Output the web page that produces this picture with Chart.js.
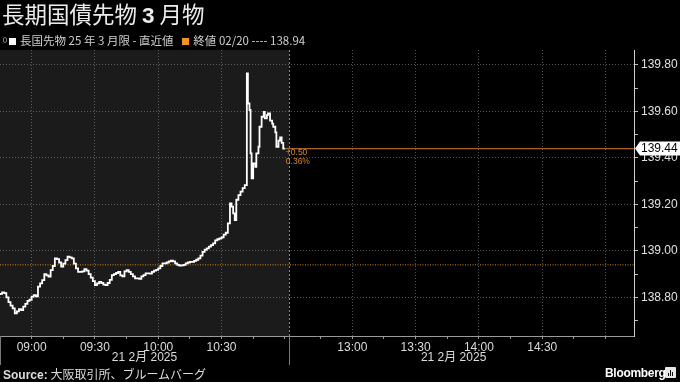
<!DOCTYPE html>
<html><head><meta charset="utf-8">
<script src="https://cdn.jsdelivr.net/npm/chart.js@4.4.1/dist/chart.umd.min.js"></script>
<style>
html,body{margin:0;padding:0;background:#000;}
#wrap{position:relative;width:680px;height:382px;overflow:hidden;background:#000;font-family:"Noto Sans CJK JP","Liberation Sans",sans-serif;}
#c{position:absolute;left:0;top:0;}
.title{position:absolute;left:2px;top:0px;font-size:22.5px;line-height:26px;color:#ececec;white-space:nowrap;}
.title b{font-family:"Liberation Sans",Arial,sans-serif;font-weight:bold;}
.legend{position:absolute;left:3px;top:33px;font-size:11.5px;line-height:14px;color:#cfcfcf;white-space:nowrap;}
.sq{display:inline-block;width:7px;height:7px;margin:0 4px 0 1px;vertical-align:0px;}
.pin{display:inline-block;width:2px;height:4px;border:1px solid #777;border-radius:2px;margin-right:1px;vertical-align:2px;}
.foot{position:absolute;left:3px;top:367px;font-size:12px;line-height:14px;color:#dcdcdc;white-space:nowrap;}
.foot b{font-family:"Liberation Sans",Arial,sans-serif;}
.bb{position:absolute;left:605px;top:365px;font:bold 12px/16px "Liberation Sans",Arial,sans-serif;color:#fff;letter-spacing:-0.3px;}
.bbicon{position:absolute;left:665px;top:367px;width:11px;height:11px;background:#e8e8e8;border-radius:1px;}
.bbicon i{position:absolute;bottom:2px;width:1px;background:#111;}
</style></head>
<body>
<div id="wrap">
<canvas id="c" width="680" height="382"></canvas>
<div class="title">長期国債先物 <b>3</b> 月物</div>
<div class="legend"><span class="pin"></span><span class="sq" style="background:#fff"></span>長国先物 25 年 3 月限 - 直近値&nbsp;&nbsp;&nbsp;<span class="sq" style="background:#f0961e"></span>終値 02/20 ---- 138.94</div>
<div class="foot"><b>Source:</b> 大阪取引所、ブルームバーグ</div>
<div class="bb">Bloomberg</div>
<div class="bbicon"><i style="left:3px;height:3px"></i><i style="left:5px;height:6px"></i><i style="left:7px;height:4px"></i></div>
</div>
<script>
// ---- data ----
const times = [
"08:45","08:46","08:47","08:48","08:49","08:50","08:51","08:52","08:53","08:54",
"08:55","08:56","08:57","08:58","08:59","09:00","09:01","09:02","09:03","09:04",
"09:05","09:06","09:07","09:08","09:09","09:10","09:11","09:12","09:13","09:14",
"09:15","09:16","09:17","09:18","09:19","09:20","09:21","09:22","09:23","09:24",
"09:25","09:26","09:27","09:28","09:29","09:30","09:31","09:32","09:33","09:34",
"09:35","09:36","09:37","09:38","09:39","09:40","09:41","09:42","09:43","09:44",
"09:45","09:46","09:47","09:48","09:49","09:50","09:51","09:52","09:53","09:54",
"09:55","09:56","09:57","09:58","09:59","10:00","10:01","10:02","10:03","10:04",
"10:05","10:06","10:07","10:08","10:09","10:10","10:11","10:12","10:13","10:14",
"10:15","10:16","10:17","10:18","10:19","10:20","10:21","10:22","10:23","10:24",
"10:25","10:26","10:27","10:28","10:29","10:30","10:31","10:32","10:33","10:34",
"10:34:45","10:35:30","10:36:15","10:37","10:38","10:39","10:40","10:41","10:42","10:42:30",
"10:43:15","10:43:45","10:44:15","10:45","10:46","10:46:30","10:47:30","10:48","10:49","10:50",
"10:50:30","10:51:30","10:52","10:53","10:54","10:54:30","10:55:30","10:56","10:57","10:57:45",
"10:58:30","10:59:15","11:00"
];
const prices = [
138.810,138.815,138.822,138.818,138.800,138.780,138.765,138.753,138.731,138.740,
138.750,138.745,138.760,138.772,138.785,138.790,138.803,138.810,138.805,138.846,
138.860,138.874,138.900,138.895,138.889,138.917,138.935,138.968,138.965,138.950,
138.932,138.945,138.960,138.975,138.972,138.968,138.945,138.925,138.910,138.910,
138.912,138.922,138.915,138.900,138.885,138.870,138.853,138.860,138.867,138.862,
138.855,138.853,138.862,138.875,138.896,138.900,138.905,138.910,138.895,138.890,
138.912,138.917,138.910,138.900,138.890,138.882,138.882,138.880,138.890,138.896,
138.903,138.903,138.902,138.910,138.915,138.918,138.925,138.935,138.946,138.946,
138.950,138.955,138.958,138.955,138.946,138.940,138.937,138.938,138.940,138.946,
138.950,138.953,138.953,138.957,138.962,138.968,138.980,138.996,139.005,139.011,
139.018,139.025,139.032,139.045,139.050,139.054,139.058,139.070,139.078,139.118,
139.204,139.190,139.161,139.132,139.220,139.240,139.255,139.270,139.283,139.763,
139.634,139.606,139.419,139.312,139.376,139.362,139.419,139.448,139.534,139.577,
139.598,139.570,139.584,139.591,139.560,139.547,139.534,139.510,139.448,139.474,
139.488,139.465,139.440
];
const prevClose = 138.94;
const lastPrice = 139.44;
const changeText = "+0.50";
const changePctText = "0.36%";
const dateLabel = "21 2月 2025";
const xTickTimes = ["09:00","09:15","09:30","09:45","10:00","10:15","10:30","10:45","11:00",
  "12:45","13:00","13:15","13:30","13:45","14:00","14:15","14:30","14:45","15:00"];
const xLabelTimes = ["09:00","09:30","10:00","10:30","13:00","13:30","14:00","14:30"];
const xGridTimes = ["09:00","09:30","10:00","10:30","13:00","13:30","14:00","14:30","15:00"];
const yTickValues = [138.7,138.8,138.9,139.0,139.1,139.2,139.3,139.4,139.5,139.6,139.7,139.8];
const yLabelValues = [138.8,139.0,139.2,139.4,139.6,139.8];

// ---- session time mapping (lunch break collapsed) ----
function clockMin(t){const p=t.split(':').map(Number);return p[0]*60+p[1]+(p[2]||0)/60;}
const MORNING_START = clockMin("08:45"), MORNING_END = clockMin("11:02"), AFTERNOON_START = clockMin("12:30");
const BREAK_X = MORNING_END - MORNING_START;
function toX(t){const m=clockMin(t);return m<=MORNING_END? m-MORNING_START : BREAK_X + (m-AFTERNOON_START);}
const X_MAX = toX("15:00") + 13.5;
const AFTERNOON_LABEL_END = toX("15:06");

const priceData = times.map((t,i)=>({x:toX(t),y:prices[i]}));
const lastX = toX(times[times.length-1]);
const gridSet = new Set(xGridTimes.map(toX));
const tickLabelMap = {}; xLabelTimes.forEach(t=>tickLabelMap[toX(t)]=t);
const ySet = yLabelValues.map(v=>v.toFixed(2));

const GRID = 'rgba(150,150,150,0.55)';

const decor = {
  id:'decor',
  beforeDraw(chart){
    const {ctx, chartArea:a, scales:{x,y}} = chart;
    ctx.save();
    ctx.fillStyle='#000'; ctx.fillRect(0,0,chart.width,chart.height);
    const x0=x.getPixelForValue(0), x1=x.getPixelForValue(BREAK_X);
    ctx.fillStyle='#1b1b1b'; ctx.fillRect(x0,a.top,x1-x0,a.bottom-a.top);
    ctx.restore();
  },
  afterDatasetsDraw(chart){
    const {ctx, chartArea:a, scales:{x,y}} = chart;
    ctx.save();
    const xb=Math.round(x.getPixelForValue(BREAK_X))+0.5;
    ctx.strokeStyle='#8a8a8a'; ctx.lineWidth=1; ctx.setLineDash([2,2]);
    ctx.beginPath(); ctx.moveTo(xb,a.top); ctx.lineTo(xb,a.bottom); ctx.stroke();
    ctx.setLineDash([]); ctx.strokeStyle='#777';
    ctx.beginPath(); ctx.moveTo(xb,a.bottom); ctx.lineTo(xb,a.bottom+29); ctx.stroke();
    const xl=Math.round(x.getPixelForValue(0))+0.5;
    ctx.beginPath(); ctx.moveTo(xl,a.bottom); ctx.lineTo(xl,a.bottom+29); ctx.stroke();
    // date labels
    ctx.fillStyle='#dcdcdc'; ctx.font='12px "Liberation Sans","Noto Sans CJK JP",sans-serif';
    ctx.textAlign='center'; ctx.textBaseline='middle';
    ctx.fillText(dateLabel,(x.getPixelForValue(0)+x.getPixelForValue(BREAK_X))/2,a.bottom+22);
    ctx.fillText(dateLabel,(x.getPixelForValue(BREAK_X)+x.getPixelForValue(AFTERNOON_LABEL_END))/2,a.bottom+22);
    // change text
    const ly=y.getPixelForValue(lastPrice);
    const lx=x.getPixelForValue(lastX);
    ctx.fillStyle='#d98a2a'; ctx.font='8.5px "Liberation Sans",sans-serif'; ctx.textAlign='left';
    ctx.fillText(changeText,lx+1,ly+4.5);
    ctx.fillText(changePctText,lx+1,ly+13);
    // last value box
    const ax=a.right+1;
    ctx.fillStyle='#ffffff';
    ctx.beginPath(); ctx.moveTo(ax,ly); ctx.lineTo(ax+5,ly-7); ctx.lineTo(chart.width,ly-7);
    ctx.lineTo(chart.width,ly+7); ctx.lineTo(ax+5,ly+7); ctx.closePath(); ctx.fill();
    ctx.fillStyle='#000'; ctx.font='12px "Liberation Sans",Arial,sans-serif'; ctx.textAlign='left';
    ctx.fillText(lastPrice.toFixed(2),ax+6,ly+0.5);
    ctx.restore();
  }
};

new Chart(document.getElementById('c'),{
  type:'line',
  data:{datasets:[
    {data:priceData,borderColor:'#ffffff',borderWidth:1.8,pointRadius:0,stepped:'after',order:1},
    {data:[{x:0,y:prevClose},{x:X_MAX,y:prevClose}],borderColor:'#d9861c',borderWidth:1,borderDash:[1,1.5],pointRadius:0,order:2},
    {data:[{x:lastX,y:lastPrice},{x:X_MAX,y:lastPrice}],borderColor:'#a8631a',borderWidth:1.2,pointRadius:0,order:2}
  ]},
  options:{
    responsive:false,animation:false,devicePixelRatio:1,
    layout:{padding:{top:50,left:0,right:0,bottom:26}},
    plugins:{legend:{display:false},tooltip:{enabled:false}},
    scales:{
      x:{type:'linear',min:0,max:X_MAX,
        afterBuildTicks:s=>{s.ticks=xTickTimes.map(t=>({value:toX(t)}));},
        afterFit:s=>{s.height=20;},
        ticks:{autoSkip:false,maxRotation:0,padding:1,color:'#dcdcdc',
          font:{family:'"Liberation Sans",Arial,sans-serif',size:12},
          callback:(v)=>tickLabelMap[v]||''},
        grid:{color:c=>gridSet.has(c.tick&&c.tick.value)?GRID:'rgba(0,0,0,0)',tickColor:'#9a9a9a',tickLength:3,lineWidth:1},
        border:{color:'#9a9a9a',width:1,dash:[1,2]}
      },
      y:{position:'right',min:138.634,max:139.864,
        afterBuildTicks:s=>{s.ticks=yTickValues.map(v=>({value:v}));},
        afterFit:s=>{s.width=46;},
        ticks:{padding:3,color:'#e0e0e0',font:{family:'"Liberation Sans",Arial,sans-serif',size:12},
          callback:v=>ySet.includes(Number(v).toFixed(2))?Number(v).toFixed(2):''},
        grid:{color:c=>(c.tick&&ySet.includes(Number(c.tick.value).toFixed(2)))?GRID:'rgba(0,0,0,0)',tickColor:'#bdbdbd',tickLength:4},
        border:{color:'#d0d0d0',width:1,dash:[1,2]}
      }
    }
  },
  plugins:[decor]
});
</script>
</body></html>
